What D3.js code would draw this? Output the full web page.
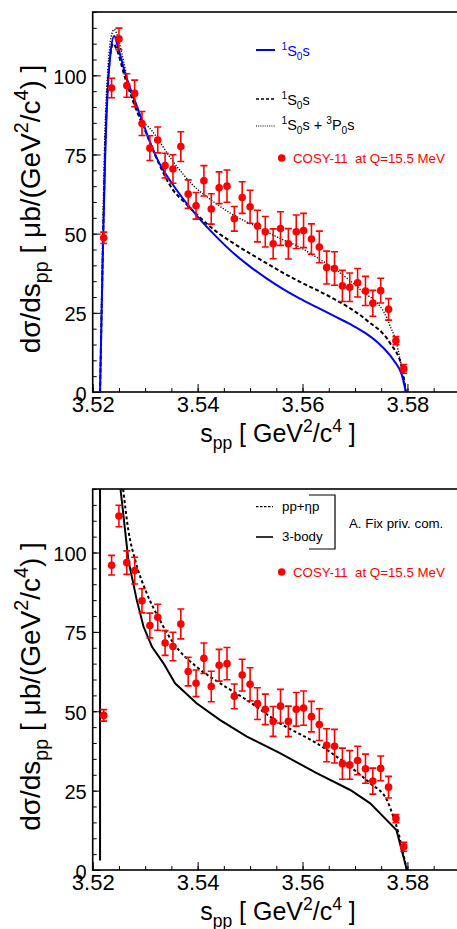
<!DOCTYPE html>
<meta charset="utf-8">
<script src="https://d3js.org/d3.v7.min.js"></script>
<style>
body { margin: 0; background: #fff; }
svg text { font-family: "Liberation Sans", Arial, Helvetica, sans-serif; }
</style>
<div id="chart"></div>
<script>

// COSY-11 data at Q=15.5 MeV (same points in both panels)
var sPP = [3.5221, 3.5236, 3.5250, 3.5265, 3.5280, 3.5294, 3.5309, 3.5324, 3.5338, 3.5353,
           3.5368, 3.5382, 3.5397, 3.5412, 3.5426, 3.5441, 3.5456, 3.5470, 3.5485, 3.5500,
           3.5514, 3.5529, 3.5544, 3.5558, 3.5573, 3.5588, 3.5602, 3.5617, 3.5632, 3.5646,
           3.5661, 3.5676, 3.5690, 3.5705, 3.5720, 3.5734, 3.5749, 3.5764, 3.5778, 3.5793];
var dSigma = [48.7, 96.0, 111.5, 96.8, 94.3, 84.8, 77.0, 79.6, 71.5, 70.4,
              77.5, 62.5, 58.8, 66.7, 57.8, 64.5, 65.0, 54.7, 61.4, 58.5,
              52.4, 50.6, 46.8, 51.6, 46.8, 50.6, 51.0, 48.3, 45.8, 39.3,
              39.0, 33.5, 33.1, 34.5, 31.9, 28.0, 32.0, 26.1, 16.2, 7.3];
var dSigmaErr = [1.8, 3.1, 3.4, 3.7, 4.2, 3.8, 3.9, 4.1, 3.9, 4.5,
                 4.7, 4.5, 4.2, 4.8, 4.8, 5.0, 5.1, 3.9, 5.0, 5.2,
                 5.0, 4.8, 4.7, 5.3, 4.8, 5.3, 5.4, 4.8, 5.0, 5.2,
                 5.3, 4.9, 4.5, 4.5, 4.6, 4.1, 3.9, 3.4, 1.3, 1.4];

// top panel: 1S0 s (blue), 1S0 s (dashed), 1S0 s + 3P0 s (dotted)
var curveS0Blue = [[3.5214, 0], [3.5217, 25], [3.5220, 48.7], [3.5224, 75.5], [3.5229, 96.4],
  [3.5234, 107], [3.5241, 112.4], [3.5248, 109], [3.5262, 100.6], [3.5281, 91.7],
  [3.5294, 85.9], [3.5310, 78.5], [3.5326, 72.6], [3.5351, 65.9], [3.5377, 60.0],
  [3.5402, 55.0], [3.5436, 49.0], [3.5468, 43.9], [3.5500, 39.6], [3.5532, 35.8],
  [3.5563, 32.5], [3.5595, 29.5], [3.5627, 26.8], [3.5659, 24.1], [3.5691, 21.4],
  [3.5720, 18.6], [3.5745, 15.4], [3.5773, 10.2], [3.5789, 5.5], [3.5797, 0]];
var curveS0Dash = [[3.5214, 0], [3.5217, 25], [3.5220, 50], [3.5224, 78], [3.5229, 98],
  [3.5234, 107], [3.5239, 110], [3.5245, 108.5], [3.5262, 99], [3.5281, 90],
  [3.5300, 82.5], [3.5326, 72.2], [3.5351, 64.3], [3.5377, 59.6], [3.5402, 55.5],
  [3.5436, 50.6], [3.5468, 47.0], [3.5532, 40.6], [3.5563, 37.6], [3.5595, 34.8],
  [3.5652, 30.1], [3.5722, 22.7], [3.5767, 15.4], [3.5789, 8.0], [3.5797, 0]];
var curveS0P0Dot = [[3.5214, 0], [3.5218, 40], [3.5223, 80], [3.5229, 102], [3.5235, 112],
  [3.5241, 114.5], [3.5248, 112], [3.5258, 105], [3.5270, 96], [3.5290, 87],
  [3.5313, 82.5], [3.5351, 73.3], [3.5390, 65.5], [3.5427, 60.5], [3.5462, 56.5],
  [3.5525, 51.2], [3.5557, 48.5], [3.5595, 45.7], [3.5627, 42.5], [3.5660, 39.0],
  [3.5689, 35.4], [3.5720, 31.0], [3.5740, 28.5], [3.5756, 25], [3.5766, 21.2],
  [3.5778, 16], [3.5785, 11.1], [3.5792, 5], [3.5797, 0]];

// bottom panel: pp+eta p (dashed) and 3-body (solid), A. Fix
var curvePPEta = [[3.5258, 120], [3.5268, 107], [3.5281, 97.6], [3.5303, 87.2],
  [3.5328, 78.7], [3.5354, 71.4], [3.5398, 64.0], [3.5443, 58.8], [3.5494, 53.5],
  [3.5557, 46.2], [3.5627, 39.9], [3.5691, 32.5], [3.5729, 27.3], [3.5761, 22.0],
  [3.5773, 16.8], [3.5783, 11.6], [3.5789, 7.3], [3.5799, 0]];
var curve3Body = [[3.5214, 3], [3.5214, 400], [3.5253, 120], [3.5268, 97.6],
  [3.5284, 85.0], [3.5297, 76.6], [3.5313, 70.3], [3.5335, 65.1], [3.5357, 58.8],
  [3.5398, 52.5], [3.5443, 47.2], [3.5494, 42.0], [3.5557, 36.8], [3.5627, 30.5],
  [3.5691, 25.2], [3.5729, 21.0], [3.5754, 16.8], [3.5779, 12.6], [3.5799, 0]];

var xTickValues = [3.52, 3.54, 3.56, 3.58];
var yTickValues = [0, 25, 50, 75, 100];

var width = 457, height = 929;
var left = 92.7, right = 459.9;

var svg = d3.select("#chart")
  .append("svg")
    .attr("width", width)
    .attr("height", height);

var points = sPP.map(function(s, i) { return {s: s, v: dSigma[i], e: dSigmaErr[i]}; });

// sub/superscript helper, works with dy shifts
function richText(sel, parts, size) {
  var shift = 0;
  parts.forEach(function(p) {
    var mode = p[1] || "n";
    var fs = mode == "n" ? size : size * 0.7;
    var target = mode == "sup" ? -size * 0.42 : (mode == "sub" ? size * 0.28 : 0);
    sel.append("tspan")
      .attr("dy", target - shift)
      .style("font-size", fs + "px")
      .text(p[0]);
    shift = target;
  });
  return sel;
}

function drawPanel(top, bottom, id) {
  var x = d3.scaleLinear().domain([3.52, 3.59]).range([left, right]);
  var y = d3.scaleLinear().domain([0, 120]).range([bottom, top]);

  var g = svg.append("g");

  g.append("clipPath").attr("id", "clip" + id)
    .append("rect")
      .attr("x", left).attr("y", top)
      .attr("width", right - left).attr("height", bottom - top);

  // minor ticks
  g.append("g")
    .attr("transform", "translate(0," + bottom + ")")
    .call(d3.axisBottom(x).ticks(14).tickSize(-4).tickSizeOuter(0).tickFormat(""))
    .call(function(a) { a.select(".domain").remove(); });
  g.append("g")
    .attr("transform", "translate(" + left + ",0)")
    .call(d3.axisLeft(y).ticks(24).tickSize(-4).tickSizeOuter(0).tickFormat(""))
    .call(function(a) { a.select(".domain").remove(); });

  // major ticks + labels
  var xAxis = g.append("g")
    .attr("transform", "translate(0," + bottom + ")")
    .call(d3.axisBottom(x).tickValues(xTickValues).tickSize(-8).tickSizeOuter(0)
      .tickPadding(4).tickFormat(d3.format(".2f")));
  xAxis.select(".domain").remove();
  xAxis.selectAll("text").style("font-size", "22px").attr("dy", "0.74em");

  var yAxis = g.append("g")
    .attr("transform", "translate(" + left + ",0)")
    .call(d3.axisLeft(y).tickValues(yTickValues).tickSize(-8).tickSizeOuter(0)
      .tickPadding(6).tickFormat(d3.format("d")));
  yAxis.select(".domain").remove();
  yAxis.selectAll("text").style("font-size", "20px").attr("dy", "0.4em");
  g.selectAll(".tick line").attr("stroke-width", 1);

  // frame
  g.append("rect")
    .attr("x", left).attr("y", top)
    .attr("width", right - left).attr("height", bottom - top)
    .attr("fill", "none").attr("stroke", "#000").attr("stroke-width", 1.6);

  // axis titles
  var xt = g.append("text")
    .attr("x", 278).attr("y", bottom + 50)
    .attr("text-anchor", "middle");
  richText(xt, [["s"], ["pp", "sub"], [" [ GeV"], ["2", "sup"], ["/c"], ["4", "sup"], [" ]"]], 25);

  var yt = g.append("text")
    .attr("transform", "translate(40," + ((top + bottom) / 2 + 7) + ") rotate(-90)")
    .attr("text-anchor", "middle");
  richText(yt, [["d\u03c3/ds"], ["pp", "sub"], [" [ \u03bcb/(GeV"], ["2", "sup"], ["/c"], ["4", "sup"], [") ]"]], 28);

  var line = d3.line()
    .x(function(d) { return x(d[0]); })
    .y(function(d) { return y(d[1]); });

  var plot = g.append("g").attr("clip-path", "url(#clip" + id + ")");

  return {x: x, y: y, g: g, plot: plot, line: line};
}

function drawData(p) {
  var bars = p.plot.append("g").attr("stroke", "red").attr("stroke-width", 1.6);
  bars.selectAll(".err")
    .data(points)
    .enter()
    .append("path")
      .attr("fill", "none")
      .attr("d", function(d) {
        var cx = p.x(d.s), y0 = p.y(d.v - d.e), y1 = p.y(d.v + d.e);
        return "M" + (cx - 3.5) + "," + y1 + "H" + (cx + 3.5) + "M" + cx + "," + y1 + "V" + y0 +
               "M" + (cx - 3.5) + "," + y0 + "H" + (cx + 3.5);
      });
  p.plot.append("g").selectAll("circle")
    .data(points)
    .enter()
    .append("circle")
      .attr("cx", function(d) { return p.x(d.s); })
      .attr("cy", function(d) { return p.y(d.v); })
      .attr("r", 3.8)
      .attr("fill", "red");
}

// ---------- top panel ----------
var p1 = drawPanel(12, 392, 1);

p1.plot.append("path").datum(curveS0P0Dot)
  .attr("fill", "none").attr("stroke", "#000").attr("stroke-width", 1.4)
  .attr("stroke-dasharray", "1.2,1.6")
  .attr("d", p1.line.curve(d3.curveMonotoneX));
p1.plot.append("path").datum(curveS0Dash)
  .attr("fill", "none").attr("stroke", "#000").attr("stroke-width", 2)
  .attr("stroke-dasharray", "4,2.5")
  .attr("d", p1.line.curve(d3.curveMonotoneX));
p1.plot.append("path").datum(curveS0Blue)
  .attr("fill", "none").attr("stroke", "#0000ff").attr("stroke-width", 2)
  .attr("d", p1.line.curve(d3.curveMonotoneX));
drawData(p1);

// top legend
var leg1 = svg.append("g");
leg1.append("line").attr("x1", 256).attr("x2", 275).attr("y1", 50).attr("y2", 50)
  .attr("stroke", "#0000ff").attr("stroke-width", 2);
richText(leg1.append("text").attr("x", 281.5).attr("y", 56).attr("fill", "#0000ff"),
  [["1", "sup"], ["S"], ["0", "sub"], ["s"]], 14.5);
leg1.append("line").attr("x1", 256).attr("x2", 275).attr("y1", 99).attr("y2", 99)
  .attr("stroke", "#000").attr("stroke-width", 1.5).attr("stroke-dasharray", "3,2");
richText(leg1.append("text").attr("x", 281.5).attr("y", 105),
  [["1", "sup"], ["S"], ["0", "sub"], ["s"]], 14.5);
leg1.append("line").attr("x1", 256).attr("x2", 275).attr("y1", 126).attr("y2", 126)
  .attr("stroke", "#000").attr("stroke-width", 1.2).attr("stroke-dasharray", "1,1.2");
richText(leg1.append("text").attr("x", 281.5).attr("y", 130),
  [["1", "sup"], ["S"], ["0", "sub"], ["s + "], ["3", "sup"], ["P"], ["0", "sub"], ["s"]], 14.5);
leg1.append("circle").attr("cx", 281.7).attr("cy", 158).attr("r", 3.8).attr("fill", "red");
leg1.append("text").attr("x", 293).attr("y", 163.3).attr("fill", "red")
  .style("font-size", "13.3px").style("white-space", "pre")
  .text("COSY-11  at Q=15.5 MeV");

// ---------- bottom panel ----------
var p2 = drawPanel(489, 870, 2);

p2.plot.append("path").datum(curvePPEta)
  .attr("fill", "none").attr("stroke", "#000").attr("stroke-width", 2)
  .attr("stroke-dasharray", "3,2.5")
  .attr("d", p2.line.curve(d3.curveMonotoneX));
p2.plot.append("path").datum(curve3Body)
  .attr("fill", "none").attr("stroke", "#000").attr("stroke-width", 2)
  .attr("d", p2.line.curve(d3.curveLinear));
drawData(p2);

// bottom legend
var leg2 = svg.append("g");
leg2.append("line").attr("x1", 256).attr("x2", 273).attr("y1", 506.7).attr("y2", 506.7)
  .attr("stroke", "#000").attr("stroke-width", 1.3).attr("stroke-dasharray", "2.5,1.5");
leg2.append("text").attr("x", 282).attr("y", 510.5).style("font-size", "13.3px").text("pp+\u03b7p");
leg2.append("line").attr("x1", 256).attr("x2", 273).attr("y1", 537).attr("y2", 537)
  .attr("stroke", "#000").attr("stroke-width", 1.6);
leg2.append("text").attr("x", 282).attr("y", 541).style("font-size", "13.3px").text("3-body");
leg2.append("path")
  .attr("d", "M309,495H335V549H309")
  .attr("fill", "none").attr("stroke", "#000").attr("stroke-width", 1.2);
leg2.append("text").attr("x", 349).attr("y", 527.5).style("font-size", "13.3px").text("A. Fix priv. com.");
leg2.append("circle").attr("cx", 281.7).attr("cy", 572).attr("r", 3.8).attr("fill", "red");
leg2.append("text").attr("x", 293).attr("y", 576.5).attr("fill", "red")
  .style("font-size", "13.3px").style("white-space", "pre")
  .text("COSY-11  at Q=15.5 MeV");

</script>
